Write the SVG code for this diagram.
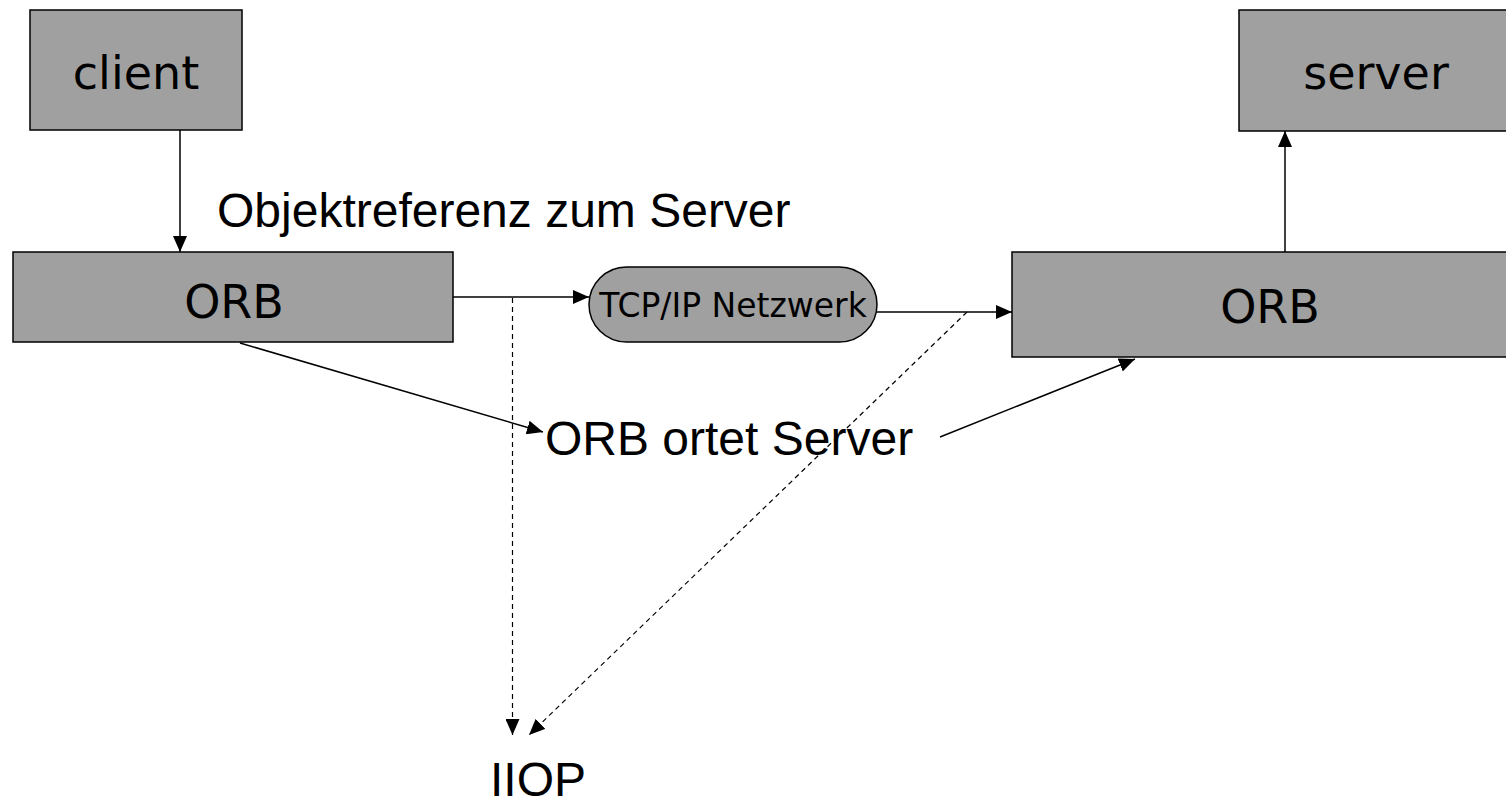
<svg xmlns="http://www.w3.org/2000/svg" width="1506" height="804" viewBox="0 0 1506 804">
  <style>
    .box { fill: #a0a0a0; stroke: #000; stroke-width: 1.5; }
    .boxlabel { font-family: "DejaVu Sans", Verdana, sans-serif; font-size: 46px; fill: #000; text-anchor: middle; }
    .label { font-family: "Liberation Sans", Arial, sans-serif; font-size: 48px; fill: #000; }
    .line { fill: none; stroke: #000; stroke-width: 1.5; }
    .dash { fill: none; stroke: #000; stroke-width: 1.2; stroke-dasharray: 5 4; }
  </style>
  <defs>
    <marker id="arrow" markerUnits="userSpaceOnUse" markerWidth="16" markerHeight="14" refX="16" refY="7" orient="auto">
      <path d="M0,0 L16,7 L0,14 z" fill="#000"/>
    </marker>
  </defs>

  <rect width="1506" height="804" fill="#fff"/>

  <g id="client">
    <rect class="box" x="30" y="10" width="212" height="120"/>
    <text class="boxlabel" x="136" y="89">client</text>
  </g>

  <g id="orb-client">
    <rect class="box" x="13" y="252" width="440" height="90"/>
    <text class="boxlabel" x="234" y="318">ORB</text>
  </g>

  <g id="network">
    <rect class="box" x="589" y="267" width="288" height="75" rx="37.5" ry="37.5"/>
    <text class="boxlabel" x="733" y="317" style="font-size:33px">TCP/IP Netzwerk</text>
  </g>

  <g id="orb-server">
    <rect class="box" x="1012" y="252" width="496" height="105"/>
    <text class="boxlabel" x="1270" y="323">ORB</text>
  </g>

  <g id="server">
    <rect class="box" x="1239" y="10" width="269" height="121"/>
    <text class="boxlabel" x="1376" y="89">server</text>
  </g>

  <g id="labels">
    <text class="label" x="217" y="227">Objektreferenz zum Server</text>
    <text class="label" x="545" y="455">ORB ortet Server</text>
    <text class="label" x="490" y="796">IIOP</text>
  </g>

  <g id="connectors">
    <line class="line" x1="180" y1="130" x2="180" y2="252" marker-end="url(#arrow)"/>
    <line class="line" x1="453" y1="297" x2="589" y2="297" marker-end="url(#arrow)"/>
    <line class="line" x1="877" y1="312" x2="1012" y2="312" marker-end="url(#arrow)"/>
    <line class="line" x1="1285" y1="252" x2="1285" y2="131" marker-end="url(#arrow)"/>
    <line class="line" x1="240" y1="343" x2="543" y2="432" marker-end="url(#arrow)"/>
    <line class="line" x1="940" y1="437" x2="1135" y2="359" marker-end="url(#arrow)"/>
    <line class="dash" x1="512.5" y1="298" x2="512.5" y2="735" marker-end="url(#arrow)"/>
    <line class="dash" x1="967" y1="312" x2="529" y2="735" marker-end="url(#arrow)"/>
  </g>
</svg>
